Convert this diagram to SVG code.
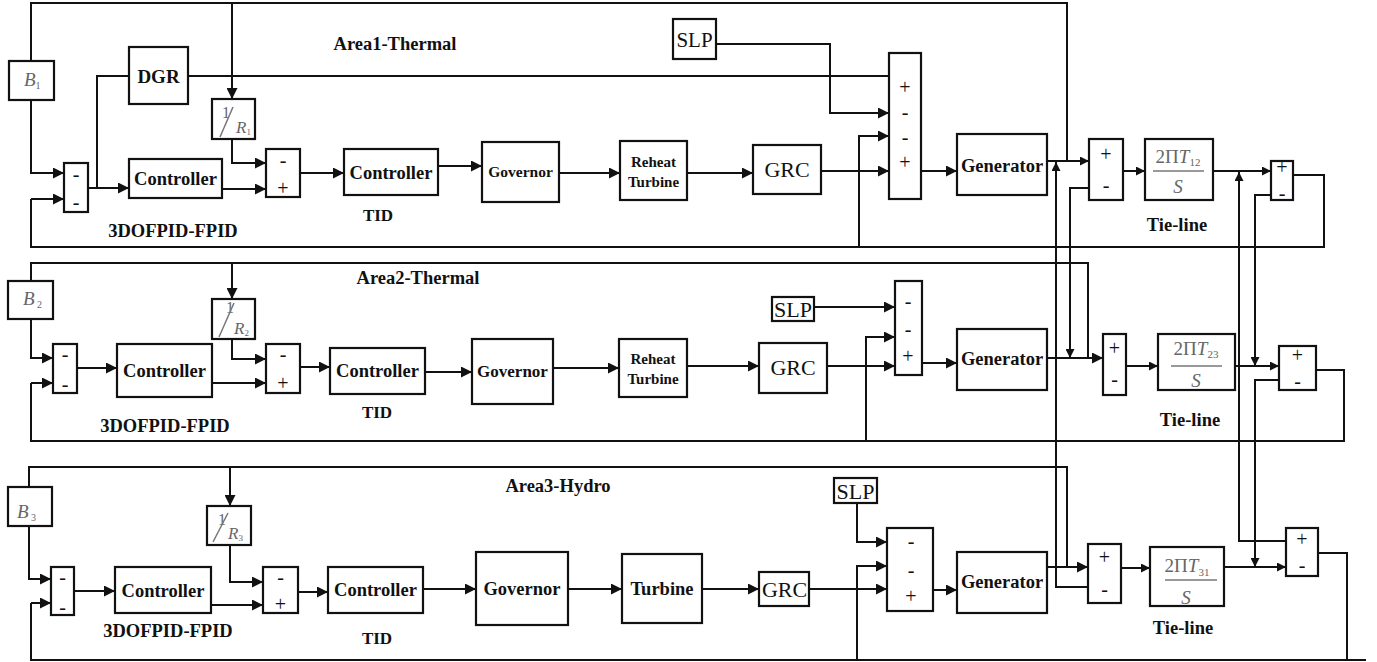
<svg xmlns="http://www.w3.org/2000/svg" width="1377" height="662" viewBox="0 0 1377 662">
<style>
.b{fill:#fff;stroke:#111;stroke-width:2.2}
.c{fill:none;stroke:#111;stroke-width:2}
.k{fill:none;stroke:#111;stroke-width:2;marker-end:url(#A)}
.q{fill:none;stroke:#111;stroke-width:2;marker-end:url(#S)}
.t{font-family:"Liberation Serif","Times New Roman",serif;font-weight:bold;fill:#111;text-anchor:middle}
.r{font-family:"Liberation Serif","Times New Roman",serif;fill:#111;text-anchor:middle}
.m{font-family:"Liberation Serif","Times New Roman",serif;fill:#666}
.sg{font-family:"Liberation Serif","Times New Roman",serif;font-size:20px;fill:#111;text-anchor:middle}
.fl{stroke:#777;stroke-width:1.5}
</style>
<defs>
<marker id="A" viewBox="0 0 10 10" refX="10" refY="5" markerWidth="13" markerHeight="11" markerUnits="userSpaceOnUse" orient="auto"><path d="M0,0 L10,5 L0,10 z" fill="#111"/></marker>
<marker id="S" viewBox="0 0 10 10" refX="10" refY="5" markerWidth="10" markerHeight="9" markerUnits="userSpaceOnUse" orient="auto"><path d="M0,0 L10,5 L0,10 z" fill="#111"/></marker>
</defs>

<g id="connectors">
<path class="c" d="M1067,161 V3 H31 V61"/>
<path class="k" d="M232,3 V99"/>
<path class="k" d="M31,100 V173 H64"/>
<path class="c" d="M1293,175 H1324 V247 H31 V199"/>
<path class="k" d="M31,199 H64"/>
<path class="k" d="M859,247 V136 H889"/>
<path class="k" d="M88,188 H129"/>
<path class="c" d="M97,188 V76 H129"/>
<path class="c" d="M188,76 H889"/>
<path class="k" d="M222,189 H266"/>
<path class="k" d="M232,139 V163 H266"/>
<path class="k" d="M300,173 H344"/>
<path class="k" d="M438,166 H482"/>
<path class="k" d="M559,173 H620"/>
<path class="k" d="M687,173 H753"/>
<path class="k" d="M821,171 H889"/>
<path class="k" d="M716,44 H830 V113 H889"/>
<path class="k" d="M921,171 H957"/>
<path class="q" d="M1047,161 H1089"/>
<path class="q" d="M1088,587 H1056 V162"/>
<path class="q" d="M1089,188 H1070 V358"/>
<path class="q" d="M1123,171 H1145"/>
<path class="q" d="M1213,171 H1271"/>
<path class="q" d="M1286,541 H1239 V172"/>
<path class="q" d="M1271,195 H1255 V366"/>
<path class="c" d="M1088,358 V263 H31 V281"/>
<path class="k" d="M232,263 V299"/>
<path class="k" d="M31,319 V358 H53"/>
<path class="c" d="M1316,370 H1344 V441 H31 V383"/>
<path class="k" d="M31,383 H53"/>
<path class="k" d="M866,441 V337 H895"/>
<path class="k" d="M77,368 H117"/>
<path class="k" d="M212,383 H266"/>
<path class="k" d="M232,339 V359 H266"/>
<path class="k" d="M300,367 H330"/>
<path class="k" d="M425,372 H472"/>
<path class="k" d="M553,368 H619"/>
<path class="k" d="M687,366 H759"/>
<path class="k" d="M827,366 H895"/>
<path class="k" d="M814,307 H895"/>
<path class="k" d="M922,363 H957"/>
<path class="k" d="M1047,358 H1103"/>
<path class="q" d="M1126,366 H1158"/>
<path class="q" d="M1235,366 H1279"/>
<path class="q" d="M1279,380 H1255 V567"/>
<path class="c" d="M1067,567 V467 H29 V487"/>
<path class="k" d="M230,467 V506"/>
<path class="k" d="M29,526 V579 H51"/>
<path class="c" d="M1366,660 H31 V603"/>
<path class="k" d="M31,603 H51"/>
<path class="c" d="M1318,553 H1347 V660"/>
<path class="k" d="M857,660 V566 H887"/>
<path class="k" d="M74,591 H115"/>
<path class="k" d="M211,605 H263"/>
<path class="k" d="M230,545 V582 H263"/>
<path class="k" d="M298,592 H328"/>
<path class="k" d="M423,589 H476"/>
<path class="k" d="M568,589 H622"/>
<path class="k" d="M702,589 H759"/>
<path class="k" d="M809,589 H887"/>
<path class="k" d="M857,503 V542 H887"/>
<path class="k" d="M933,590 H957"/>
<path class="k" d="M1047,567 H1088"/>
<path class="q" d="M1121,568 H1150"/>
<path class="q" d="M1224,567 H1286"/>
</g>

<g id="B1"><rect class="b" x="9" y="61" width="45" height="39"/><text class="m" x="24" y="86" font-size="19" font-style="italic">B<tspan font-size="10" font-style="normal" dy="3">1</tspan></text></g>
<g id="sum1a"><rect class="b" x="64" y="163" width="24" height="49"/><text class="sg" x="76" y="181">-</text><text class="sg" x="76" y="209">-</text></g>
<g id="DGR"><rect class="b" x="129" y="47" width="59" height="57"/><text class="t" x="158.5" y="83" font-size="19">DGR</text></g>
<g id="ctrl1a"><rect class="b" x="129" y="159" width="93" height="39"/><text class="t" x="175.5" y="185" font-size="18.5">Controller</text></g>
<g id="R1"><rect class="b" x="212" y="99" width="43" height="40"/><text class="m" x="222" y="118" font-size="16">1</text><line class="fl" x1="220" y1="137" x2="233" y2="107"/><text class="m" x="236" y="133" font-size="17" font-style="italic">R<tspan font-size="9" font-style="normal" dy="2">1</tspan></text></g>
<g id="sum2a"><rect class="b" x="266" y="149" width="34" height="48"/><text class="sg" x="283" y="167">-</text><text class="sg" x="283" y="195">+</text></g>
<g id="tid1"><rect class="b" x="344" y="149" width="94" height="46"/><text class="t" x="391" y="179" font-size="18.5">Controller</text></g>
<g id="gov1"><rect class="b" x="482" y="142" width="77" height="60"/><text class="t" x="520.5" y="177" font-size="15.5">Governor</text></g>
<g id="reheat1"><rect class="b" x="620" y="141" width="67" height="59"/><text class="t" x="653.5" y="167" font-size="15">Reheat</text><text class="t" x="653.5" y="187" font-size="15">Turbine</text></g>
<g id="grc1"><rect class="b" x="753" y="145" width="68" height="49"/><text class="r" x="787" y="177" font-size="22">GRC</text></g>
<g id="slp1"><rect class="b" x="673" y="19" width="43" height="40"/><text class="r" x="694.5" y="47" font-size="21">SLP</text></g>
<g id="bigsum1"><rect class="b" x="889" y="53" width="32" height="146"/><text class="sg" x="905" y="94">+</text><text class="sg" x="905" y="119">-</text><text class="sg" x="905" y="144">-</text><text class="sg" x="905" y="169">+</text></g>
<g id="gen1"><rect class="b" x="957" y="134" width="90" height="61"/><text class="t" x="1002" y="172" font-size="18.5">Generator</text></g>
<g id="tsum1"><rect class="b" x="1089" y="139" width="34" height="61"/><text class="sg" x="1106" y="161">+</text><text class="sg" x="1106" y="192">-</text></g>
<g id="tie12"><rect class="b" x="1145" y="139" width="68" height="61"/><text class="m" x="1178" y="163" font-size="19" text-anchor="middle">2Π<tspan font-style="italic">T</tspan><tspan font-size="11" dy="3">12</tspan></text><line class="fl" x1="1153" y1="171" x2="1204" y2="171"/><text class="m" x="1178" y="193" font-size="19" font-style="italic" text-anchor="middle">S</text></g>
<g id="tsum1b"><rect class="b" x="1271" y="161" width="22" height="39"/><text class="sg" x="1282" y="174">+</text><text class="sg" x="1282" y="200">-</text></g>
<g id="lbl1"><text class="t" x="395" y="50" font-size="18.5">Area1-Thermal</text><text class="t" x="173" y="237" font-size="18.5">3DOFPID-FPID</text><text class="t" x="378" y="221" font-size="17">TID</text><text class="t" x="1177" y="231" font-size="18.5">Tie-line</text></g>

<g id="B2"><rect class="b" x="8" y="281" width="45" height="38"/><text class="m" x="23" y="305" font-size="19" font-style="italic">B<tspan font-size="10" font-style="normal" dy="3"> 2</tspan></text></g>
<g id="sum1b"><rect class="b" x="53" y="344" width="24" height="49"/><text class="sg" x="65" y="361">-</text><text class="sg" x="65" y="391">-</text></g>
<g id="ctrl2a"><rect class="b" x="117" y="344" width="95" height="53"/><text class="t" x="164.5" y="377" font-size="18.5">Controller</text></g>
<g id="R2"><rect class="b" x="212" y="299" width="43" height="40"/><text class="m" x="226" y="313" font-size="16">1</text><line class="fl" x1="219" y1="337" x2="234" y2="303"/><text class="m" x="234" y="334" font-size="17" font-style="italic">R<tspan font-size="9" font-style="normal" dy="2">2</tspan></text></g>
<g id="sum2b"><rect class="b" x="266" y="344" width="34" height="49"/><text class="sg" x="283" y="361">-</text><text class="sg" x="283" y="390">+</text></g>
<g id="tid2"><rect class="b" x="330" y="348" width="95" height="46"/><text class="t" x="377.5" y="377" font-size="18.5">Controller</text></g>
<g id="gov2"><rect class="b" x="472" y="339" width="81" height="65"/><text class="t" x="512.5" y="377" font-size="17">Governor</text></g>
<g id="reheat2"><rect class="b" x="619" y="339" width="68" height="58"/><text class="t" x="653" y="364" font-size="15">Reheat</text><text class="t" x="653" y="384" font-size="15">Turbine</text></g>
<g id="grc2"><rect class="b" x="759" y="343" width="68" height="50"/><text class="r" x="793" y="375" font-size="22">GRC</text></g>
<g id="slp2"><rect class="b" x="772" y="297" width="42" height="24"/><text class="r" x="793" y="317" font-size="22">SLP</text></g>
<g id="bigsum2"><rect class="b" x="895" y="281" width="27" height="94"/><text class="sg" x="908" y="308">-</text><text class="sg" x="908" y="336">-</text><text class="sg" x="908" y="363">+</text></g>
<g id="gen2"><rect class="b" x="957" y="329" width="90" height="61"/><text class="t" x="1002" y="365" font-size="18.5">Generator</text></g>
<g id="tsum2"><rect class="b" x="1103" y="334" width="23" height="61"/><text class="sg" x="1114.5" y="355">+</text><text class="sg" x="1114.5" y="386">-</text></g>
<g id="tie23"><rect class="b" x="1158" y="334" width="77" height="56"/><text class="m" x="1196" y="355" font-size="19" text-anchor="middle">2Π<tspan font-style="italic">T</tspan><tspan font-size="11" dy="3">23</tspan></text><line class="fl" x1="1171" y1="366" x2="1222" y2="366"/><text class="m" x="1196" y="387" font-size="19" font-style="italic" text-anchor="middle">S</text></g>
<g id="tsum2b"><rect class="b" x="1279" y="346" width="37" height="44"/><text class="sg" x="1297.5" y="362">+</text><text class="sg" x="1297.5" y="388">-</text></g>
<g id="lbl2"><text class="t" x="418" y="284" font-size="18.5">Area2-Thermal</text><text class="t" x="165" y="432" font-size="18.5">3DOFPID-FPID</text><text class="t" x="377" y="418" font-size="17">TID</text><text class="t" x="1190" y="426" font-size="18.5">Tie-line</text></g>

<g id="B3"><rect class="b" x="8" y="487" width="44" height="39"/><text class="m" x="17" y="518" font-size="19" font-style="italic">B<tspan font-size="10" font-style="normal" dy="3"> 3</tspan></text></g>
<g id="sum1c"><rect class="b" x="51" y="567" width="23" height="48"/><text class="sg" x="62.5" y="584">-</text><text class="sg" x="62.5" y="614">-</text></g>
<g id="ctrl3a"><rect class="b" x="115" y="567" width="96" height="46"/><text class="t" x="163" y="597" font-size="18.5">Controller</text></g>
<g id="R3"><rect class="b" x="207" y="506" width="44" height="39"/><text class="m" x="218" y="525" font-size="16">1</text><line class="fl" x1="213" y1="542" x2="228" y2="513"/><text class="m" x="228" y="539" font-size="17" font-style="italic">R<tspan font-size="9" font-style="normal" dy="2">3</tspan></text></g>
<g id="sum2c"><rect class="b" x="263" y="567" width="35" height="46"/><text class="sg" x="280.5" y="584">-</text><text class="sg" x="280.5" y="611">+</text></g>
<g id="tid3"><rect class="b" x="328" y="567" width="95" height="46"/><text class="t" x="375.5" y="596" font-size="18.5">Controller</text></g>
<g id="gov3"><rect class="b" x="476" y="552" width="92" height="73"/><text class="t" x="522" y="595" font-size="18.5">Governor</text></g>
<g id="turb3"><rect class="b" x="622" y="554" width="80" height="69"/><text class="t" x="662" y="595" font-size="18.5">Turbine</text></g>
<g id="grc3"><rect class="b" x="759" y="572" width="50" height="34"/><text class="r" x="784.5" y="597" font-size="22">GRC</text></g>
<g id="slp3"><rect class="b" x="834" y="478" width="43" height="25"/><text class="r" x="855.5" y="499" font-size="22">SLP</text></g>
<g id="bigsum3"><rect class="b" x="887" y="528" width="46" height="83"/><text class="sg" x="911" y="548">-</text><text class="sg" x="911" y="577">-</text><text class="sg" x="911" y="603">+</text></g>
<g id="gen3"><rect class="b" x="957" y="552" width="90" height="61"/><text class="t" x="1002" y="588" font-size="18.5">Generator</text></g>
<g id="tsum3"><rect class="b" x="1088" y="544" width="33" height="59"/><text class="sg" x="1104.5" y="564">+</text><text class="sg" x="1104.5" y="596">-</text></g>
<g id="tie31"><rect class="b" x="1150" y="547" width="74" height="59"/><text class="m" x="1187" y="572" font-size="19" text-anchor="middle">2Π<tspan font-style="italic">T</tspan><tspan font-size="11" dy="4">31</tspan></text><line class="fl" x1="1165" y1="580" x2="1217" y2="580"/><text class="m" x="1186" y="604" font-size="19" font-style="italic" text-anchor="middle">S</text></g>
<g id="tsum3b"><rect class="b" x="1286" y="528" width="32" height="48"/><text class="sg" x="1302" y="546">+</text><text class="sg" x="1302" y="572">-</text></g>
<g id="lbl3"><text class="t" x="558" y="492" font-size="18.5">Area3-Hydro</text><text class="t" x="168" y="637" font-size="18.5">3DOFPID-FPID</text><text class="t" x="377" y="644" font-size="17">TID</text><text class="t" x="1183" y="634" font-size="18.5">Tie-line</text></g>
</svg>
